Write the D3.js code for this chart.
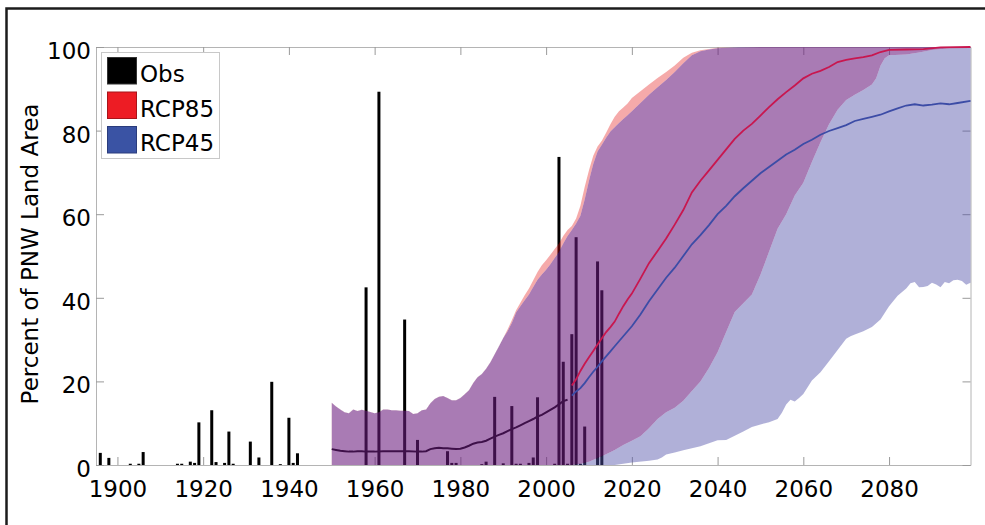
<!DOCTYPE html>
<html>
<head>
<meta charset="utf-8">
<script src="https://cdn.jsdelivr.net/npm/d3@7"></script>
<style>
  html, body { margin: 0; padding: 0; background: #fff; }
  svg { display: block; }
  text { font-family: "DejaVu Sans", sans-serif; }
</style>
</head>
<body>
<svg id="chart" width="985" height="525"></svg>
<script>
// ---------------- DATA ----------------
const xTicks = [1900, 1920, 1940, 1960, 1980, 2000, 2020, 2040, 2060, 2080];
const yTicks = [0, 20, 40, 60, 80, 100];
const legendLabels = ["Obs", "RCP85", "RCP45"];

const obsYears  = [1896,1898,1903,1905,1906,1914,1915,1917,1918,1919,1922,1923,1925,1926,1927,1931,1933,1936,1938,1940,1941,1942,
                   1958,1961,1967,1970,1977,1978,1979,1985,1986,1988,1990,1992,1993,1994,1996,1997,1998,2002,2003,2004,2005,2006,2007,2008,2009,2012,2013];
const obsValues = [2.9,1.7,0.3,0.3,3.1,0.3,0.3,0.8,0.5,10.2,13.1,0.7,0.5,8.0,0.3,5.6,1.8,19.9,0.2,11.3,0.5,2.8,
                   42.5,89.3,34.8,6.0,3.3,0.5,0.5,0.2,0.8,16.3,0.4,14.1,0.3,0.3,0.5,1.8,16.2,0.3,73.7,24.7,0.3,31.3,54.5,0.3,9.2,48.7,41.8];

// historical model mean (shared by both scenarios)
const histMean = [[1950,3.8],[1951,3.6],[1952,3.4],[1953,3.3],[1954,3.2],[1955,3.2],[1956,3.3],[1957,3.3],[1958,3.2],[1959,3.2],
  [1960,3.2],[1962,3.3],[1964,3.3],[1966,3.3],[1968,3.3],[1970,3.2],[1971,3.2],[1972,3.3],[1973,3.8],[1974,4.0],[1975,4.1],
  [1976,4.0],[1977,4.0],[1978,3.9],[1979,3.8],[1980,3.9],[1981,4.2],[1982,4.6],[1983,5.1],[1984,5.4],[1985,5.5],[1986,5.8],
  [1987,6.3],[1988,6.8],[1989,7.2],[1990,7.6],[1991,8.1],[1992,8.6],[1993,9.0],[1994,9.5],[1995,10.0],[1996,10.5],[1997,11.0],
  [1998,11.6],[1999,12.0],[2000,12.6],[2001,13.2],[2002,13.8],[2003,14.5],[2004,15.3],[2005,15.6]];

// shared upper envelope 1950-1990
const histUpper = [[1950,14.9],[1951,14.0],[1952,13.3],[1953,12.6],[1954,12.4],[1955,13.3],[1956,12.9],[1957,13.2],[1958,13.0],
  [1959,12.7],[1960,12.4],[1961,12.6],[1962,13.3],[1963,13.3],[1964,13.1],[1965,13.1],[1966,13.0],[1967,13.0],[1968,12.9],
  [1969,12.2],[1970,12.4],[1971,13.1],[1972,13.3],[1973,14.8],[1974,15.8],[1975,16.3],[1976,16.5],[1977,16.0],[1978,15.5],
  [1979,15.5],[1980,16.0],[1981,16.9],[1982,17.9],[1983,19.6],[1984,21.0],[1985,21.8],[1986,23.0],[1987,24.6],[1988,26.5],
  [1989,28.4],[1990,30.4]];

const rcp85Upper = [[1991,32.4],[1992,34.6],[1993,37.0],[1994,38.8],[1995,40.6],[1996,42.2],[1997,44.2],[1998,46.2],[1999,47.8],
  [2000,49.0],[2001,50.3],[2002,51.7],[2003,53.0],[2004,54.8],[2005,56.2],[2006,57.2],[2007,59.0],[2008,62.0],[2009,66.5],
  [2010,70.5],[2011,74.0],[2012,76.2],[2013,77.6],[2014,79.5],[2015,81.5],[2016,83.3],[2017,84.6],[2018,85.5],[2019,86.5],
  [2020,87.8],[2022,89.4],[2024,91.0],[2026,92.6],[2028,94.0],[2030,95.6],[2032,97.4],[2034,98.6],[2036,99.2],[2038,99.5],
  [2040,99.8],[2045,99.9],[2050,100],[2099,100]];

const rcp45Upper = [[1991,32.0],[1992,34.0],[1993,36.5],[1994,38.0],[1995,39.4],[1996,40.8],[1997,42.6],[1998,44.3],[1999,45.6],
  [2000,46.7],[2001,48.0],[2002,49.5],[2003,51.0],[2004,53.0],[2005,54.8],[2006,56.2],[2007,57.8],[2008,59.6],[2009,63.5],
  [2010,68.0],[2011,72.0],[2012,75.0],[2013,76.6],[2014,78.3],[2015,79.8],[2016,80.8],[2017,81.8],[2018,82.8],[2019,83.7],
  [2020,84.6],[2022,86.6],[2024,88.6],[2026,90.4],[2028,92.1],[2030,94.0],[2032,96.1],[2034,98.0],[2036,99.0],[2038,99.4],
  [2040,99.7],[2045,100],[2099,100]];

const rcp85Lower = [[1950,0],[2006,0],[2008,0.3],[2010,0.8],[2012,1.7],[2014,2.6],[2016,3.6],[2018,4.8],[2020,5.8],[2022,6.9],
  [2024,8.8],[2026,11.0],[2028,12.6],[2030,13.7],[2032,15.4],[2034,17.7],[2036,20.0],[2038,23.2],[2040,27.0],[2042,31.8],
  [2044,36.6],[2046,38.7],[2048,40.8],[2050,45.5],[2052,51.0],[2054,56.5],[2056,60.0],[2058,64.5],[2060,67.5],[2062,72.5],
  [2064,77.2],[2066,81.5],[2068,85.0],[2070,87.3],[2072,88.6],[2074,89.7],[2076,91.0],[2077,92.5],[2078,95.5],[2079,97.3],
  [2080,98.0],[2084,98.2],[2087,98.7],[2090,99.3],[2093,99.6],[2096,100],[2099,100]];

const rcp45Lower = [[1950,0],[2016,0],[2020,0.6],[2024,1.0],[2026,1.3],[2027,1.8],[2028,2.5],[2030,3.0],[2032,3.5],[2034,4.0],
  [2036,4.5],[2038,5.2],[2040,5.9],[2042,6.0],[2044,7.0],[2046,8.0],[2048,9.1],[2050,9.7],[2052,10.2],[2054,11.0],[2055,12.5],
  [2056,14.5],[2057,15.6],[2058,15.2],[2059,16.0],[2060,17.0],[2062,20.2],[2064,22.2],[2066,24.8],[2068,27.5],[2070,30.2],
  [2071,30.8],[2072,31.2],[2074,32.0],[2076,33.0],[2078,34.8],[2080,38.0],[2082,40.5],[2084,42.2],[2085,43.5],[2086,43.8],
  [2087,42.5],[2088,42.6],[2089,42.8],[2090,43.6],[2091,43.2],[2092,42.5],[2093,43.8],[2094,43.5],[2095,44.2],[2096,44.3],
  [2097,44.0],[2098,43.1],[2099,43.6]];

const rcp85Mean = [[2006,19.0],[2007,20.5],[2008,22.5],[2009,24.2],[2010,25.8],[2011,27.3],[2012,28.8],[2013,30.3],[2014,31.8],
  [2015,33.0],[2016,34.3],[2017,36.2],[2018,38.0],[2019,39.6],[2020,41.0],[2022,44.6],[2024,48.3],[2026,51.2],[2028,54.2],
  [2030,57.5],[2032,61.0],[2034,65.2],[2036,68.0],[2038,70.5],[2040,73.0],[2042,75.5],[2044,78.0],[2046,80.0],[2048,81.6],
  [2050,83.6],[2052,85.6],[2054,87.5],[2056,89.2],[2058,90.8],[2060,92.5],[2062,93.6],[2064,94.3],[2066,95.2],[2068,96.4],
  [2070,96.9],[2072,97.3],[2074,97.6],[2076,98.0],[2078,98.8],[2080,99.3],[2084,99.4],[2088,99.5],[2092,99.9],[2099,100]];

const rcp45Mean = [[2006,16.6],[2007,17.6],[2008,18.4],[2009,19.6],[2010,21.0],[2011,22.3],[2012,23.5],[2013,24.8],[2014,26.0],
  [2015,27.2],[2016,28.4],[2017,29.6],[2018,30.8],[2020,33.2],[2022,36.0],[2024,39.2],[2026,42.0],[2028,44.8],[2030,47.2],
  [2032,50.0],[2034,52.8],[2036,55.0],[2038,57.4],[2040,60.0],[2042,62.0],[2044,64.3],[2046,66.2],[2048,68.0],[2050,69.8],
  [2052,71.3],[2054,72.8],[2056,74.3],[2058,75.4],[2060,76.8],[2062,77.8],[2064,79.0],[2066,79.9],[2068,80.6],[2070,81.3],
  [2072,82.3],[2074,82.8],[2076,83.3],[2078,83.8],[2080,84.6],[2082,85.3],[2084,86.0],[2086,86.3],[2088,86.0],[2090,86.2],
  [2092,86.5],[2094,86.3],[2096,86.6],[2099,87.1]];

// ---------------- CHART ----------------
const svg = d3.select("#chart");
const FONT = 23;
const x = d3.scaleLinear().domain([1895, 2099]).range([96, 970.5]);
const y = d3.scaleLinear().domain([0, 100]).range([465, 47]);

// outer frame
svg.append("rect").attr("x", 6.5).attr("y", 8.5).attr("width", 1000).attr("height", 600)
  .attr("fill", "none").attr("stroke", "#1c1c1c").attr("stroke-width", 2.5);

// axes (under the data, like MATLAB layer bottom)
const axisColor = "#9a9a9a";
function styleAxis(g) {
  g.selectAll(".domain").attr("stroke", "#b4b4b4");
  g.selectAll(".tick line").attr("stroke", axisColor);
  g.selectAll(".tick text").attr("fill", "#000").style("font-size", FONT + "px").style("font-family", "DejaVu Sans, sans-serif");
}
svg.append("g").attr("transform", `translate(0,${y(0)})`)
  .call(d3.axisBottom(x).tickValues(xTicks).tickFormat(d3.format("d")).tickSize(-8).tickSizeOuter(0).tickPadding(16))
  .call(styleAxis);
svg.append("g").attr("transform", `translate(0,${y(100)})`)
  .call(d3.axisTop(x).tickValues(xTicks).tickFormat("").tickSize(-8).tickSizeOuter(0))
  .call(styleAxis);
const yAx = svg.append("g").attr("transform", `translate(${x(1895)},0)`)
  .call(d3.axisLeft(y).tickValues(yTicks).tickSize(-8).tickSizeOuter(0).tickPadding(5))
  .call(styleAxis);
yAx.selectAll(".tick text").attr("dy", "0.5em");
svg.append("g").attr("transform", `translate(${x(2099)},0)`)
  .call(d3.axisRight(y).tickValues(yTicks).tickFormat("").tickSize(-8).tickSizeOuter(0))
  .call(styleAxis);

// y label
svg.append("text").attr("transform", "translate(38,254) rotate(-90)")
  .attr("text-anchor", "middle").style("font-size", FONT + "px").attr("fill", "#000")
  .text("Percent of PNW Land Area");

// obs bars
const bw = x(1900.35) - x(1899.65);
svg.append("g").selectAll("rect").data(obsYears.map((yr, i) => [yr, obsValues[i]])).join("rect")
  .attr("x", d => x(d[0]) - bw / 2).attr("width", bw)
  .attr("y", d => y(d[1])).attr("height", d => y(0) - y(d[1]))
  .attr("fill", "#000");

const line = d3.line().x(d => x(d[0])).y(d => y(d[1]));

// historical mean (under bands)
svg.append("path").attr("d", line(histMean)).attr("fill", "none")
  .attr("stroke", "#000").attr("stroke-width", 2);

// bands
const up85 = histUpper.concat(rcp85Upper);
const up45 = histUpper.concat(rcp45Upper);
const band85 = line(up85.concat(rcp85Lower.slice().reverse())) + "Z";
const band45 = line(up45.concat(rcp45Lower.slice().reverse())) + "Z";

const defs = svg.append("defs");
defs.append("clipPath").attr("id", "cp45").append("path").attr("d", band45);
const m45 = defs.append("mask").attr("id", "not45").attr("maskUnits", "userSpaceOnUse")
  .attr("x", 0).attr("y", 0).attr("width", 985).attr("height", 525);
m45.append("rect").attr("width", 985).attr("height", 525).attr("fill", "#fff");
m45.append("path").attr("d", band45).attr("fill", "#000");
const m85 = defs.append("mask").attr("id", "not85").attr("maskUnits", "userSpaceOnUse")
  .attr("x", 0).attr("y", 0).attr("width", 985).attr("height", 525);
m85.append("rect").attr("width", 985).attr("height", 525).attr("fill", "#fff");
m85.append("path").attr("d", band85).attr("fill", "#000");

// RCP85 only region
svg.append("path").attr("d", band85).attr("mask", "url(#not45)")
  .attr("fill", "rgb(226,11,11)").attr("fill-opacity", 0.35);
// RCP45 only region
svg.append("path").attr("d", band45).attr("mask", "url(#not85)")
  .attr("fill", "rgb(80,80,169)").attr("fill-opacity", 0.45);
// overlap
svg.append("path").attr("d", band85).attr("clip-path", "url(#cp45)")
  .attr("fill", "rgb(107,27,126)").attr("fill-opacity", 0.58);

// scenario means
svg.append("path").attr("d", line(rcp85Mean)).attr("fill", "none")
  .attr("stroke", "#c8174f").attr("stroke-width", 1.8);
svg.append("path").attr("d", line(rcp45Mean)).attr("fill", "none")
  .attr("stroke", "#3c4ca6").attr("stroke-width", 1.8);

// legend
const leg = svg.append("g");
leg.append("rect").attr("x", 101.5).attr("y", 52.5).attr("width", 118).attr("height", 106)
  .attr("fill", "#fff").attr("stroke", "#c8c8c8").attr("stroke-width", 1);
const swFill = ["#000000", "#ed1c24", "#3a53a4"];
const swStroke = ["#333333", "#a8141a", "#2a3c7c"];
const swY = [57.5, 92, 126.5];
legendLabels.forEach((lab, i) => {
  leg.append("rect").attr("x", 107.5).attr("y", swY[i]).attr("width", 29).attr("height", 26.5)
    .attr("fill", swFill[i]).attr("stroke", swStroke[i]).attr("stroke-width", 1);
  leg.append("text").attr("x", 140).attr("y", swY[i] + 24.5)
    .style("font-size", FONT + "px").attr("fill", "#000").text(lab);
});
</script>
</body>
</html>
